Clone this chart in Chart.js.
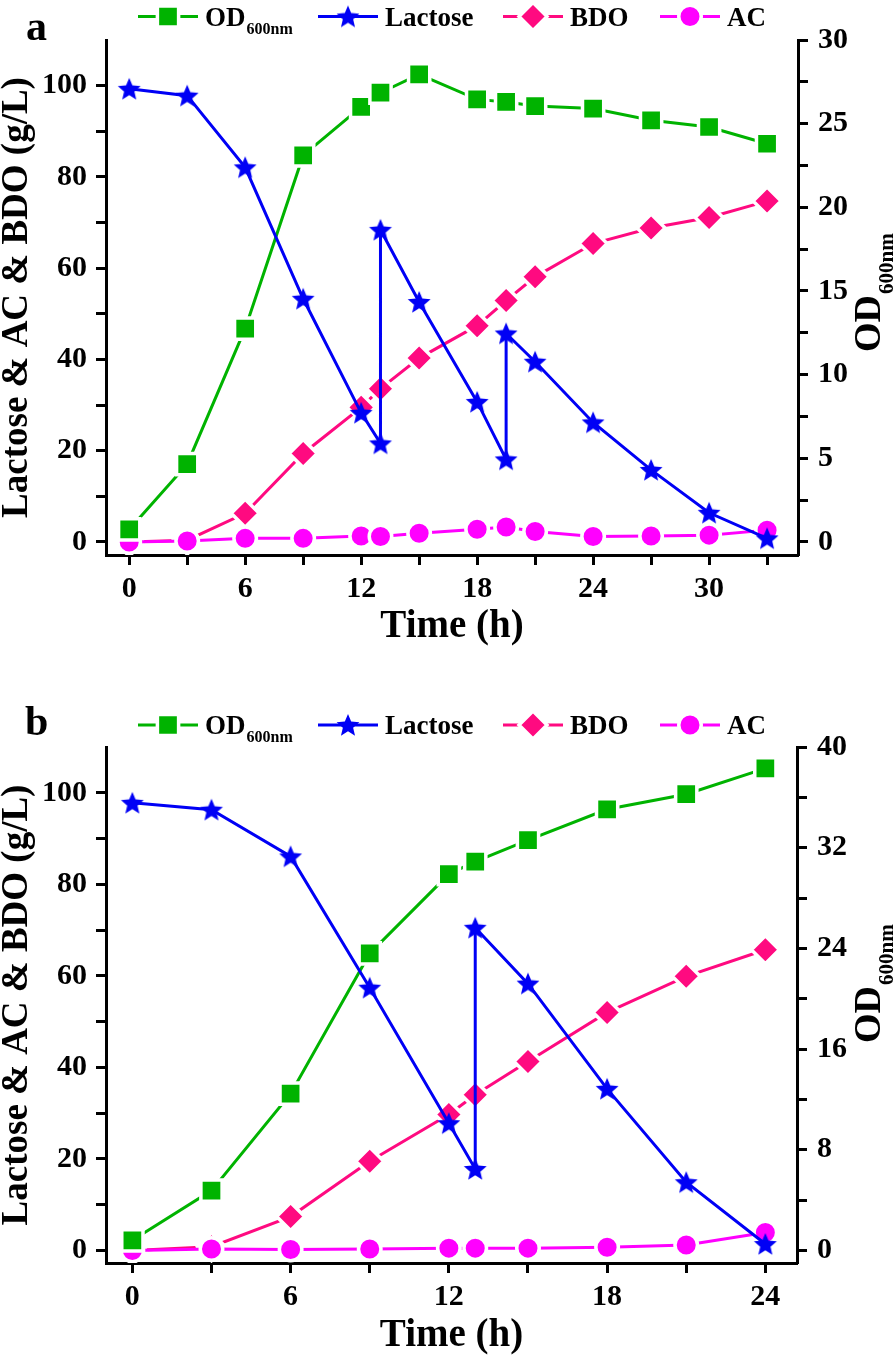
<!DOCTYPE html>
<html>
<head>
<meta charset="utf-8">
<script src="https://cdn.jsdelivr.net/npm/chart.js@4.4.1/dist/chart.umd.min.js"></script>
<style>
  body { margin: 0; background: #fff; }
  canvas { display: block; }
</style>
</head>
<body>
<canvas id="chartA" width="896" height="680"></canvas>
<canvas id="chartB" width="896" height="681"></canvas>
<script>
// ---- panel a data ----
const timeA = [0, 3, 6, 9, 12, 13, 15, 18, 19.5, 21, 24, 27, 30, 33];
const odA = [0.75, 4.65, 12.75, 23.1, 26.0, 26.85, 27.95, 26.45, 26.3, 26.05, 25.9, 25.2, 24.8, 23.8];
const bdoA = [0, 0.4, 6.3, 19.4, 29.5, 33.6, 40.3, 47.4, 52.9, 58.1, 65.4, 68.8, 71.1, 74.7];
const acA = [0, 0.2, 0.8, 0.8, 1.3, 1.2, 1.9, 2.8, 3.3, 2.3, 1.2, 1.3, 1.5, 2.6];
// lactose is fed twice, so it has two values at the feeding times
const lactoseTimeA = [0, 3, 6, 9, 12, 13, 13, 15, 18, 19.5, 19.5, 21, 24, 27, 30, 33];
const lactoseA = [99.3, 97.8, 82.1, 53.3, 28.3, 21.6, 68.4, 52.6, 30.7, 18.1, 45.7, 39.5, 26.2, 15.8, 6.4, 0.8];

// ---- panel b data ----
const timeB = [0, 3, 6, 9, 12, 13, 15, 18, 21, 24];
const odB = [0.8, 4.75, 12.45, 23.6, 29.9, 30.9, 32.6, 35.05, 36.25, 38.3];
const bdoB = [0, 0.8, 7.4, 19.5, 29.7, 34.0, 41.3, 52.0, 59.9, 65.7];
const acB = [0, 0.3, 0.2, 0.3, 0.5, 0.5, 0.5, 0.7, 1.2, 3.9];
const lactoseTimeB = [0, 3, 6, 9, 12, 13, 13, 15, 18, 21, 24];
const lactoseB = [97.8, 96.3, 86.1, 57.4, 27.8, 17.8, 70.5, 58.3, 35.3, 14.9, 1.4];

// ---- ticks ----
const leftTicks = [0, 10, 20, 30, 40, 50, 60, 70, 80, 90, 100];
const leftLabels = [0, 20, 40, 60, 80, 100];
const rightTicksA = [0, 2.5, 5, 7.5, 10, 12.5, 15, 17.5, 20, 22.5, 25, 27.5, 30];
const rightLabelsA = [0, 5, 10, 15, 20, 25, 30];
const rightTicksB = [0, 4, 8, 12, 16, 20, 24, 28, 32, 36, 40];
const rightLabelsB = [0, 8, 16, 24, 32, 40];
const xTicksA = [0, 3, 6, 9, 12, 15, 18, 21, 24, 27, 30, 33];
const xLabelsA = [0, 6, 12, 18, 24, 30];
const xTicksB = [0, 3, 6, 9, 12, 15, 18, 21, 24];
const xLabelsB = [0, 6, 12, 18, 24];

const legendNames = ['OD', 'Lactose', 'BDO', 'AC'];
const legendSubs = ['600nm', '', '', ''];

const FONT = 'Liberation Serif';
const GREEN = '#00b300';
const BLUE = '#0000f5';
const ROSE = '#ff0a80';
const MAGENTA = '#ff00ff';

// filled five point star used as a marker image
function makeStar(color, R) {
  const s = Math.ceil(R * 2 + 2);
  const c = document.createElement('canvas');
  c.width = s; c.height = s;
  const g = c.getContext('2d');
  g.translate(s / 2, s / 2 + R * 0.08);
  g.beginPath();
  for (let k = 0; k < 10; k++) {
    const r = k % 2 ? R * 0.45 : R;
    const a = -Math.PI / 2 + k * Math.PI / 5;
    g.lineTo(r * Math.cos(a), r * Math.sin(a));
  }
  g.closePath();
  g.fillStyle = color;
  g.fill();
  return c;
}
const starImg = makeStar(BLUE, 12);

function pts(xs, ys) {
  return xs.map((x, i) => ({ x: x, y: ys[i] }));
}

function makeDatasets(time, od, lacT, lac, bdo, ac) {
  return [
    { label: 'OD600nm', data: pts(time, od), yAxisID: 'y1', order: 2,
      borderColor: GREEN, borderWidth: 3, pointStyle: 'rect', pointRadius: 15,
      pointBackgroundColor: GREEN, pointBorderColor: '#fff', pointBorderWidth: 3.5 },
    { label: 'Lactose', data: pts(lacT, lac), yAxisID: 'y', order: 1,
      borderColor: BLUE, borderWidth: 3, pointStyle: starImg, pointRadius: 12,
      pointBackgroundColor: BLUE, pointBorderColor: BLUE, pointBorderWidth: 0 },
    { label: 'BDO', data: pts(time, bdo), yAxisID: 'y', order: 4,
      borderColor: ROSE, borderWidth: 3, pointStyle: 'rectRot', pointRadius: 14,
      pointBackgroundColor: ROSE, pointBorderColor: '#fff', pointBorderWidth: 3.5 },
    { label: 'AC', data: pts(time, ac), yAxisID: 'y', order: 3,
      borderColor: MAGENTA, borderWidth: 3, pointStyle: 'circle', pointRadius: 11.25,
      pointBackgroundColor: MAGENTA, pointBorderColor: '#fff', pointBorderWidth: 3.5 }
  ];
}

// panel letter, legend with subscript and the right axis title
const decorPlugin = {
  id: 'decor',
  afterDraw(chart, args, o) {
    const ctx = chart.ctx;
    ctx.save();
    ctx.fillStyle = '#000';
    ctx.textAlign = 'left';
    ctx.textBaseline = 'alphabetic';
    ctx.font = 'bold 42px ' + FONT;
    ctx.fillText(o.panel, o.panelX, o.panelY);

    chart.data.datasets.forEach((ds, i) => {
      const x0 = o.legendX[i];
      const y = o.legendY;
      ctx.strokeStyle = ds.borderColor;
      ctx.lineWidth = ds.borderWidth;
      ctx.beginPath();
      ctx.moveTo(x0, y);
      ctx.lineTo(x0 + 60, y);
      ctx.stroke();
      ctx.fillStyle = ds.pointBackgroundColor;
      ctx.strokeStyle = ds.pointBorderColor;
      ctx.lineWidth = ds.pointBorderWidth;
      Chart.helpers.drawPoint(ctx, {
        pointStyle: ds.pointStyle, radius: ds.pointRadius,
        borderWidth: ds.pointBorderWidth, rotation: 0
      }, x0 + 30, y);
      ctx.fillStyle = '#000';
      ctx.font = 'bold 27px ' + FONT;
      ctx.fillText(legendNames[i], x0 + 67, y + 9);
      if (legendSubs[i]) {
        const w = ctx.measureText(legendNames[i]).width;
        ctx.font = 'bold 16px ' + FONT;
        ctx.fillText(legendSubs[i], x0 + 67 + w + 1, y + 17);
      }
    });

    ctx.translate(o.rightTitleX, o.rightTitleY);
    ctx.rotate(-Math.PI / 2);
    ctx.font = 'bold 38px ' + FONT;
    ctx.fillText('OD', 0, 0);
    const wOD = ctx.measureText('OD').width;
    ctx.font = 'bold 21px ' + FONT;
    ctx.fillText('600nm', wOD + 1, 13);
    ctx.restore();
  }
};

function axisStyle(ticks, labels, pad) {
  return {
    afterBuildTicks: (axis) => { axis.ticks = ticks.map(v => ({ value: v })); },
    ticks: {
      autoSkip: false, maxRotation: 0, padding: pad, color: '#000',
      font: { family: FONT, size: 30, weight: 'bold' },
      callback: (v) => labels.includes(v) ? String(v) : ''
    },
    grid: { drawOnChartArea: false, drawTicks: true, tickLength: 10, tickWidth: 3, tickColor: '#000' },
    border: { display: true, width: 3, color: '#000' }
  };
}

function makeChart(id, cfg) {
  const H = cfg.height;
  const x = axisStyle(cfg.xTicks, cfg.xLabels, 6);
  x.type = 'linear';
  x.position = 'bottom';
  x.min = cfg.xMin; x.max = cfg.xMax;
  x.afterFit = (s) => { s.height = H - cfg.bottom; };
  x.title = { display: true, text: 'Time (h)', color: '#000',
    font: { family: FONT, size: 39, weight: 'bold' },
    padding: { top: 0, bottom: cfg.xTitlePad } };

  const y = axisStyle(leftTicks, leftLabels, 9);
  y.type = 'linear';
  y.position = 'left';
  y.min = cfg.yMin; y.max = 110;
  y.afterFit = (s) => { s.width = 106; };
  y.title = { display: true, text: 'Lactose & AC & BDO (g/L)', color: '#000',
    font: { family: FONT, size: 37, weight: 'bold' },
    padding: { top: -5, bottom: 0 } };

  const y1 = axisStyle(cfg.rTicks, cfg.rLabels, 10);
  y1.type = 'linear';
  y1.position = 'right';
  y1.min = cfg.rMin; y1.max = cfg.rMax;
  y1.afterFit = (s) => { s.width = 896 - cfg.right; };

  return new Chart(document.getElementById(id).getContext('2d'), {
    type: 'line',
    data: { datasets: cfg.datasets },
    options: {
      responsive: false,
      animation: false,
      layout: { autoPadding: false, padding: { top: cfg.top, left: 0, right: 0, bottom: 0 } },
      elements: { line: { tension: 0 } },
      plugins: {
        legend: { display: false },
        tooltip: { enabled: false },
        decor: cfg.decor
      },
      scales: { x: x, y: y, y1: y1 }
    },
    plugins: [decorPlugin]
  });
}

makeChart('chartA', {
  height: 680, top: 40, bottom: 555, right: 798,
  xMin: -1.2, xMax: 34.6, xTicks: xTicksA, xLabels: xLabelsA, xTitlePad: 30,
  yMin: -2.85, rMin: -0.78, rMax: 30, rTicks: rightTicksA, rLabels: rightLabelsA,
  datasets: makeDatasets(timeA, odA, lactoseTimeA, lactoseA, bdoA, acA),
  decor: { panel: 'a', panelX: 26, panelY: 40, legendX: [138, 318, 503, 660], legendY: 16.5,
    rightTitleX: 880, rightTitleY: 352 }
});

makeChart('chartB', {
  height: 681, top: 67, bottom: 583, right: 797,
  xMin: -1.0, xMax: 25.2, xTicks: xTicksB, xLabels: xLabelsB, xTitlePad: 2,
  yMin: -2.75, rMin: -1.0, rMax: 40, rTicks: rightTicksB, rLabels: rightLabelsB,
  datasets: makeDatasets(timeB, odB, lactoseTimeB, lactoseB, bdoB, acB),
  decor: { panel: 'b', panelX: 25, panelY: 55, legendX: [138, 318, 503, 660], legendY: 45,
    rightTitleX: 880, rightTitleY: 363 }
});
</script>
</body>
</html>
